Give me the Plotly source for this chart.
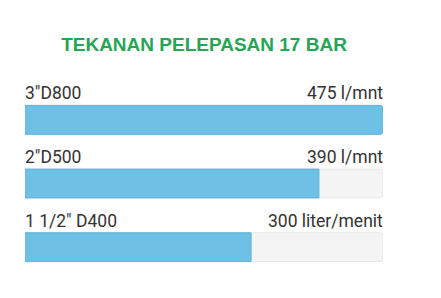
import plotly.graph_objects as go

title = "TEKANAN PELEPASAN 17 BAR"
categories = ['3"D800', '2"D500', '1 1/2" D400']
values = [475, 390, 300]
value_labels = ["475 l/mnt", "390 l/mnt", "300 liter/menit"]
max_value = 475

W, H = 441, 298
ml, mr, mt, mb = 25, 58, 87.5, 18.5

fig = go.Figure()
fig.add_trace(go.Bar(
    y=[0, 1, 2], x=[max_value] * len(categories), orientation="h",
    marker=dict(color="#f4f4f4", line=dict(color="#e9e9e9", width=1), cornerradius=3),
    width=0.453, hoverinfo="skip", showlegend=False,
))
fig.add_trace(go.Bar(
    y=[0, 1, 2], x=values, orientation="h",
    marker=dict(color="#6ec0e5", line=dict(color="#62b3d9", width=1), cornerradius=3),
    width=0.453, hoverinfo="skip", showlegend=False,
))

ann = []
for i, (c, lab) in enumerate(zip(categories, value_labels)):
    ann.append(dict(x=0, y=i, xref="x", yref="y", text=c, showarrow=False,
                    xanchor="left", yanchor="bottom", yshift=14.5, xshift=-2,
                    font=dict(family="Roboto", size=17.5, color="#333333")))
    ann.append(dict(x=max_value, y=i, xref="x", yref="y", text=lab, showarrow=False,
                    xanchor="right", yanchor="bottom", yshift=14.5, xshift=2,
                    font=dict(family="Roboto", size=17.5, color="#333333")))

fig.update_layout(
    width=W, height=H,
    margin=dict(l=ml, r=mr, t=mt, b=mb, pad=0),
    paper_bgcolor="white", plot_bgcolor="white",
    barmode="overlay",
    title=dict(text="<b>" + title + "</b>", x=0.5, xref="paper", xanchor="center",
               y=1 - 44 / H, yref="container", yanchor="middle",
               font=dict(family="Liberation Sans, Arial", size=19, color="#27a556")),
    xaxis=dict(range=[0, max_value], visible=False, fixedrange=True),
    yaxis=dict(range=[2.5, -0.5], visible=False, fixedrange=True),
    annotations=ann,
)

fig.write_html("out.html", config={"displayModeBar": False})
